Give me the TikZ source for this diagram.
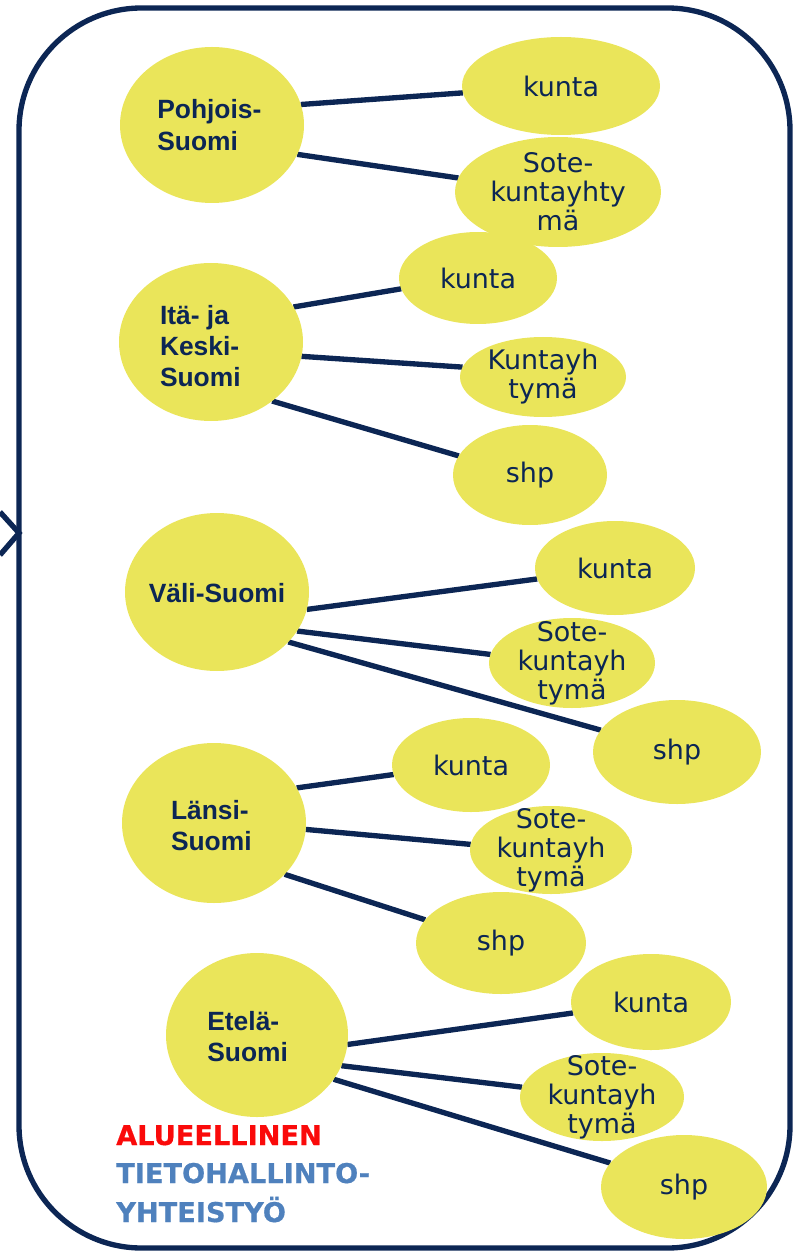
\documentclass[tikz,border=0pt]{standalone}
\usepackage{fontspec}
\usetikzlibrary{shapes.geometric,backgrounds}
\newfontfamily\regfont{Liberation Sans}
\newfontfamily\smfont{DejaVu Sans}
\newfontfamily\logofont{DejaVu Sans}[FakeBold=0.6]
\definecolor{navy}{RGB}{12,38,84}
\definecolor{ylw}{RGB}{234,229,90}
\definecolor{logored}{RGB}{250,10,10}
\definecolor{logoblue}{RGB}{79,129,189}
\begin{document}
\begin{tikzpicture}[x=0.75pt,y=-0.75pt,
  esize/.style 2 args={minimum width={1.5pt*#1}, minimum height={1.5pt*#2}},
  blob/.style={ellipse,fill=ylw,draw=none,inner sep=0pt,outer sep=0pt},
  regtext/.style={font=\regfont\bfseries\fontsize{19.8pt}{23.5pt}\selectfont,text=navy,align=left,inner sep=0pt},
  smtext/.style={font=\smfont\fontsize{20.2pt}{21.8pt}\selectfont,text=navy,align=center,inner sep=0pt},
  conn/.style={draw=navy,line width=4pt},
  logotext/.style={font=\logofont\bfseries\fontsize{20.4pt}{24pt}\selectfont,inner sep=0pt,anchor=base west}
]
\useasboundingbox (0,0) rectangle (797,1251);
% outer frame and chevron
\coordinate (cvA) at (0,512);
\coordinate (cvB) at (19,533);
\coordinate (cvC) at (0,555);
\draw[navy,line width=4pt] (cvA) -- (cvB) -- (cvC);
\draw[navy,line width=4pt,rounded corners=92pt] (19,8) rectangle (790,1248);

% regions
\node[blob,esize={92}{78},label={[regtext,xshift=-2pt]center:{Pohjois-\\Suomi}}] (p1) at (212,125) {};
\node[blob,esize={92}{79},label={[regtext,xshift=-8pt,yshift=-3pt]center:{Itä- ja\\Keski-\\Suomi}}] (p2) at (211,342) {};
\node[blob,esize={92}{79},label={[regtext,yshift=-1pt]center:{Väli-Suomi}}] (p3) at (217,592) {};
\node[blob,esize={92}{80},label={[regtext,xshift=-2pt,yshift=-2pt]center:{Länsi-\\Suomi}}] (p4) at (214,823) {};
\node[blob,esize={91}{82},label={[regtext,xshift=-7pt,yshift=-1pt]center:{Etelä-\\Suomi}}] (p5) at (257,1035) {};

% units
\node[blob,esize={99}{49},label={[smtext]center:{kunta}}] (k1) at (561,86) {};
\node[blob,esize={103}{55},label={[smtext]center:{Sote-\\kuntayhty\\mä}}] (s1) at (558,192) {};
\node[blob,esize={79}{46},label={[smtext]center:{kunta}}] (k2) at (478,278) {};
\node[blob,esize={83}{40},label={[smtext]center:{Kuntayh\\tymä}}] (y2) at (543,377) {};
\node[blob,esize={77}{50},label={[smtext]center:{shp}}] (h2) at (530,475) {};
\node[blob,esize={80}{47},label={[smtext]center:{kunta}}] (k3) at (615,568) {};
\node[blob,esize={83}{45},label={[smtext]center:{Sote-\\kuntayh\\tymä}}] (s3) at (572,663) {};
\node[blob,esize={84}{52},label={[smtext]center:{shp}}] (h3) at (677,752) {};
\node[blob,esize={79}{47},label={[smtext]center:{kunta}}] (k4) at (471,765) {};
\node[blob,esize={81}{44},label={[smtext]center:{Sote-\\kuntayh\\tymä}}] (s4) at (551,850) {};
\node[blob,esize={85}{51},label={[smtext]center:{shp}}] (h4) at (501,943) {};
\node[blob,esize={80}{48},label={[smtext]center:{kunta}}] (k5) at (651,1002) {};
\node[blob,esize={82}{44},label={[smtext]center:{Sote-\\kuntayh\\tymä}}] (s5) at (602,1097) {};
\node[blob,esize={83}{52},label={[smtext]center:{shp}}] (h5) at (684,1187) {};

% connectors
\begin{pgfonlayer}{background}
\draw[conn] (p1.13) -- (k1.184);
\draw[conn] (p1.-19) -- (s1.172);
\draw[conn] (p2.23) -- (k2.188);
\draw[conn] (p2.-9) -- (y2.173);
\draw[conn] (p2.-44) -- (h2.165);
\draw[conn] (p3.-11) -- (k3.188);
\draw[conn] (p3.-26) -- (s3.174);
\draw[conn] (p3.-35) -- (h3.164);
\draw[conn] (p4.23) -- (k4.187);
\draw[conn] (p4.-4) -- (s4.176);
\draw[conn] (p4.-36) -- (h4.163);
\draw[conn] (p5.-6) -- (k5.188);
\draw[conn] (p5.-20) -- (s5.173);
\draw[conn] (p5.-30) -- (h5.162);
\end{pgfonlayer}

% logo
\node[logotext,text=logored] (lg1) at (116,1145) {ALUEELLINEN};
\node[logotext,text=logoblue] (lg2) at (116,1183) {TIETOHALLINTO-};
\node[logotext,text=logoblue] (lg3) at (116,1222) {YHTEISTYÖ};
\end{tikzpicture}
\end{document}
